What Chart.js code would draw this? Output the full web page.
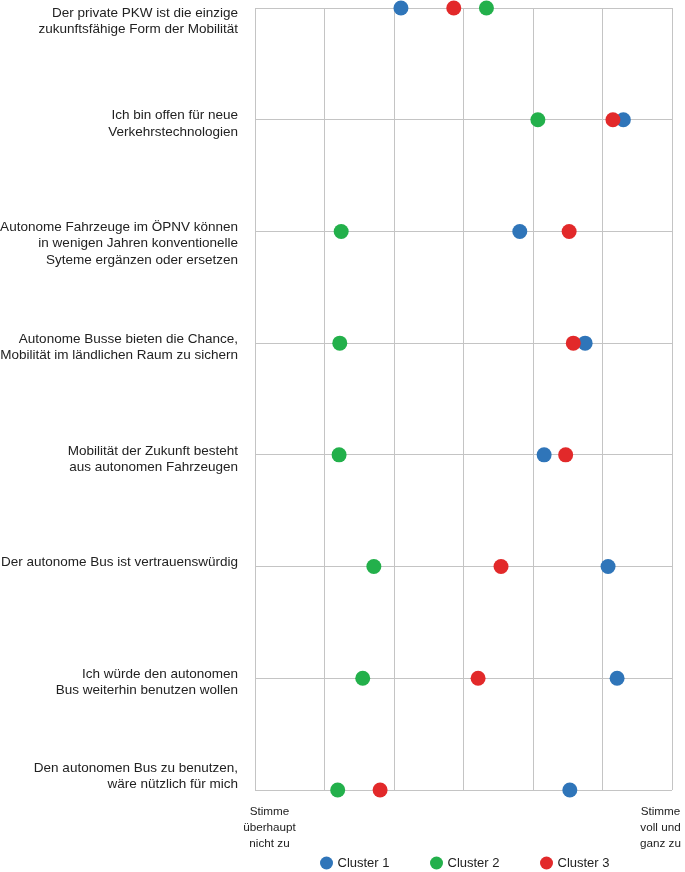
<!DOCTYPE html>
<html>
<head>
<meta charset="utf-8">
<script src="https://cdn.jsdelivr.net/npm/chart.js@4"></script>
<style>
  html, body { margin: 0; padding: 0; background: #fff; }
  #wrap { width: 685px; height: 872px; }
</style>
</head>
<body>
<div id="wrap"><canvas id="grafik"></canvas></div>
<script>
  var aussagen = [
    ["Der private PKW ist die einzige", "zukunftsfähige Form der Mobilität"],
    ["Ich bin offen für neue", "Verkehrstechnologien"],
    ["Autonome Fahrzeuge im ÖPNV können", "in wenigen Jahren konventionelle", "Syteme ergänzen oder ersetzen"],
    ["Autonome Busse bieten die Chance,", "Mobilität im ländlichen Raum zu sichern"],
    ["Mobilität der Zukunft besteht", "aus autonomen Fahrzeugen"],
    ["Der autonome Bus ist vertrauenswürdig"],
    ["Ich würde den autonomen", "Bus weiterhin benutzen wollen"],
    ["Den autonomen Bus zu benutzen,", "wäre nützlich für mich"]
  ];

  var skalaLinks = ["Stimme", "überhaupt", "nicht zu"];
  var skalaRechts = ["Stimme", "voll und", "ganz zu"];

  var clusterNamen = ["Cluster 1", "Cluster 2", "Cluster 3"];
  var cluster1 = [3.10, 6.30, 4.81, 5.75, 5.16, 6.08, 6.21, 5.53];
  var cluster2 = [4.33, 5.07, 2.24, 2.22, 2.21, 2.71, 2.55, 2.19];
  var cluster3 = [3.86, 6.15, 5.52, 5.58, 5.47, 4.54, 4.21, 2.80];

  var farben = ["#2f75b9", "#23b04b", "#e2292a"];
  var schrift = "'Liberation Sans', Arial, sans-serif";

  function punkte(werte) {
    return werte.map(function(w, i) { return { x: w, y: i }; });
  }

  var beschriftung = {
    id: "beschriftung",
    afterDraw: function(chart) {
      var ctx = chart.ctx;
      var area = chart.chartArea;
      var sx = chart.scales.x;
      var sy = chart.scales.y;
      var lh = 16.3;
      ctx.save();
      ctx.fillStyle = "#222";
      ctx.textBaseline = "middle";

      // Aussagen links
      ctx.font = "13.5px " + schrift;
      ctx.textAlign = "right";
      aussagen.forEach(function(zeilen, i) {
        var y0 = sy.getPixelForValue(i) - 4;
        y0 = Math.max(y0, area.top + 5);
        y0 = Math.min(y0, area.bottom - 22 - (zeilen.length - 2) * lh);
        zeilen.forEach(function(t, k) {
          ctx.fillText(t, area.left - 17, y0 + k * lh);
        });
      });

      // Skalenenden unten
      ctx.font = "11.7px " + schrift;
      ctx.textAlign = "center";
      var xl = sx.getPixelForValue(1) + 14.5;
      var xr = sx.getPixelForValue(7) - 11.5;
      skalaLinks.forEach(function(t, k) {
        ctx.fillText(t, xl, area.bottom + 21.5 + k * 16);
      });
      skalaRechts.forEach(function(t, k) {
        ctx.fillText(t, xr, area.bottom + 21.5 + k * 16);
      });

      // Legende
      ctx.font = "13px " + schrift;
      ctx.textAlign = "left";
      var ly = area.bottom + 73;
      var mitte = (area.left + area.right) / 2;
      var start = mitte - 137;
      clusterNamen.forEach(function(n, k) {
        var lx = start + k * 110;
        ctx.fillStyle = farben[k];
        ctx.beginPath();
        ctx.arc(lx, ly, 6.5, 0, Math.PI * 2);
        ctx.fill();
        ctx.fillStyle = "#222";
        ctx.fillText(n, lx + 11, ly);
      });
      ctx.restore();
    }
  };

  var ctx = document.getElementById("grafik").getContext("2d");

  new Chart(ctx, {
    type: "scatter",
    data: {
      datasets: [
        { label: clusterNamen[0], data: punkte(cluster1), backgroundColor: farben[0], order: 2 },
        { label: clusterNamen[1], data: punkte(cluster2), backgroundColor: farben[1], order: 1 },
        { label: clusterNamen[2], data: punkte(cluster3), backgroundColor: farben[2], order: 0 }
      ]
    },
    options: {
      responsive: true,
      maintainAspectRatio: false,
      animation: false,
      layout: {
        padding: { left: 255, right: 13, top: 8, bottom: 82 }
      },
      datasets: {
        scatter: {
          pointRadius: 7.5,
          pointHoverRadius: 7.5,
          borderWidth: 0,
          clip: false
        }
      },
      scales: {
        x: {
          type: "linear",
          min: 1,
          max: 7,
          ticks: { stepSize: 1, display: false },
          grid: { color: "#c4c4c4", lineWidth: 1, drawTicks: false },
          border: { display: false }
        },
        y: {
          type: "linear",
          min: 0,
          max: 7,
          reverse: true,
          ticks: { stepSize: 1, display: false },
          grid: { color: "#c4c4c4", lineWidth: 1, drawTicks: false },
          border: { display: false }
        }
      },
      plugins: {
        legend: { display: false },
        tooltip: { enabled: false }
      }
    },
    plugins: [beschriftung]
  });
</script>
</body>
</html>
